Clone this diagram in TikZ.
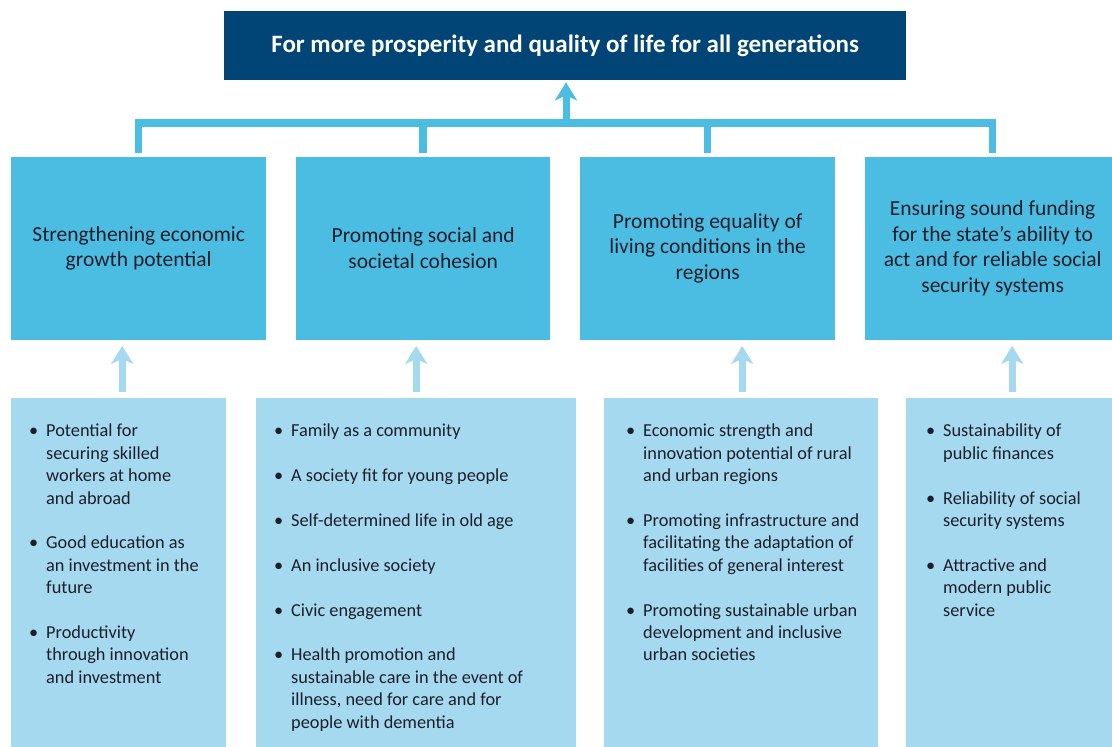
\documentclass[tikz,border=0pt]{standalone}
\usepackage{fontspec}
\setmainfont{Carlito}
\usetikzlibrary{arrows.meta}
\definecolor{dark}{HTML}{004576}
\definecolor{mid}{HTML}{4BBDE3}
\definecolor{light}{HTML}{A5D9F0}
\definecolor{ink}{HTML}{1E1E2A}
\newcommand\bitem[1]{\makebox[17pt][l]{\textbullet}#1}
\newcommand\bcont[1]{\hspace*{17pt}#1}
\begin{document}
\begin{tikzpicture}[x=1pt,y=-1pt,
 topbox/.style={fill=dark,draw=none,minimum width=682pt,minimum height=69pt,inner sep=0pt,anchor=north west,text=white,font=\fontsize{25}{29}\selectfont\bfseries},
 midbox/.style={fill=mid,draw=none,minimum height=183pt,inner sep=0pt,anchor=north west,align=center,text=ink,font=\fontsize{21.5}{25.5}\selectfont},
 lowbox/.style={fill=light,draw=none,minimum height=349pt,inner sep=0pt,anchor=north west},
 lowtext/.style={align=left,text=ink,anchor=north west,inner sep=0pt,font=\fontsize{18.3}{22.4}\selectfont},
 conn/.style={draw=mid,line width=7.5pt},
 uparrow/.style={draw=light,line width=7pt,-{Stealth[length=18pt,width=22pt,inset=5pt]}},
 toparrow/.style={draw=mid,line width=7pt,-{Stealth[length=18pt,width=22pt,inset=5pt]}},
]
\useasboundingbox (0,0) rectangle (1112,747);

\node[topbox] (top) at (224,11) {For more prosperity and quality of life for all generations};

\node[midbox,minimum width=255pt] (m1) at (11,156.5) {Strengthening economic\\growth potential};
\node[midbox,minimum width=254pt] (m2) at (296,156.5) {Promoting social and\\societal cohesion};
\node[midbox,minimum width=255pt] (m3) at (580,156.5) {Promoting equality of\\living conditions in the\\regions};
\node[midbox,minimum width=255pt] (m4) at (865,156.5) {Ensuring sound funding\\for the state’s ability to\\act and for reliable social\\security systems};

\node[lowbox,minimum width=215pt] (b1) at (11,398) {};
\node[lowbox,minimum width=320pt] (b2) at (256,398) {};
\node[lowbox,minimum width=274pt] (b3) at (604,398) {};
\node[lowbox,minimum width=212pt] (b4) at (906,398) {};

\node[lowtext] (t1) at (29,424) {\bitem{Potential for}\\\bcont{securing skilled}\\\bcont{workers at home}\\\bcont{and abroad}\\[22.4pt]
\bitem{Good education as}\\\bcont{an investment in the}\\\bcont{future}\\[22.4pt]
\bitem{Productivity}\\\bcont{through innovation}\\\bcont{and investment}};

\node[lowtext] (t2) at (274,424) {\bitem{Family as a community}\\[22.4pt]
\bitem{A society fit for young people}\\[22.4pt]
\bitem{Self-determined life in old age}\\[22.4pt]
\bitem{An inclusive society}\\[22.4pt]
\bitem{Civic engagement}\\[22.4pt]
\bitem{Health promotion and}\\\bcont{sustainable care in the event of}\\\bcont{illness, need for care and for}\\\bcont{people with dementia}};

\node[lowtext] (t3) at (626,424) {\bitem{Economic strength and}\\\bcont{innovation potential of rural}\\\bcont{and urban regions}\\[22.4pt]
\bitem{Promoting infrastructure and}\\\bcont{facilitating the adaptation of}\\\bcont{facilities of general interest}\\[22.4pt]
\bitem{Promoting sustainable urban}\\\bcont{development and inclusive}\\\bcont{urban societies}};

\node[lowtext] (t4) at (926,424) {\bitem{Sustainability of}\\\bcont{public finances}\\[22.4pt]
\bitem{Reliability of social}\\\bcont{security systems}\\[22.4pt]
\bitem{Attractive and}\\\bcont{modern public}\\\bcont{service}};

\coordinate (bar) at (566,123);
\draw[conn,shorten <=3.5pt,shorten >=3.5pt] (m1.north) -- (m1.north |- bar) -- (m4.north |- bar) -- (m4.north);
\draw[conn,shorten <=3.5pt] (m2.north) -- (m2.north |- bar);
\draw[conn,shorten <=3.5pt] (m3.north) -- (m3.north |- bar);
\draw[toparrow,shorten >=2pt] (bar) -- (top.south -| bar);

\draw[uparrow,shorten <=6pt,shorten >=6pt] ([xshift=3.5pt]b1.north) -- ([xshift=3.5pt]b1.north |- m1.south);
\draw[uparrow,shorten <=6pt,shorten >=6pt] (b2.north) -- (b2.north |- m2.south);
\draw[uparrow,shorten <=6pt,shorten >=6pt] ([xshift=1pt]b3.north) -- ([xshift=1pt]b3.north |- m3.south);
\draw[uparrow,shorten <=6pt,shorten >=6pt] (b4.north) -- (b4.north |- m4.south);
\end{tikzpicture}
\end{document}
